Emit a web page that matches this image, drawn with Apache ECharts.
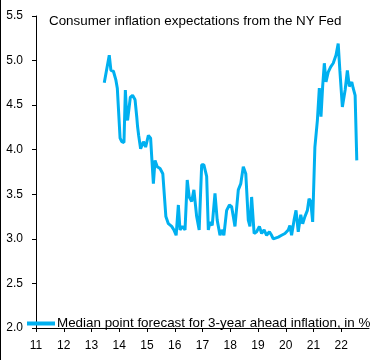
<!DOCTYPE html>
<html>
<head>
<meta charset="utf-8">
<script src="https://cdn.jsdelivr.net/npm/echarts@6/dist/echarts.min.js"></script>
<style>html,body{margin:0;padding:0;background:#fff}#c{width:384px;height:360px}</style>
</head>
<body>
<div id="c"></div>
<script>
var titleText = 'Consumer inflation expectations from the NY Fed';
var seriesName = 'Median point forecast for 3-year ahead inflation, in %';
var yTicks = [2.0, 2.5, 3.0, 3.5, 4.0, 4.5, 5.0, 5.5];
var xYears = [2011, 2012, 2013, 2014, 2015, 2016, 2017, 2018, 2019, 2020, 2021, 2022, 2023];
var dates = [2013.46,2013.64,2013.70,2013.79,2013.88,2013.93,2013.99,2014.03,2014.09,2014.17,2014.22,2014.27,2014.30,2014.35,2014.40,2014.48,2014.57,2014.63,2014.66,2014.70,2014.77,2014.87,2014.95,2015.05,2015.13,2015.17,2015.23,2015.29,2015.37,2015.47,2015.57,2015.62,2015.68,2015.77,2015.89,2015.97,2016.05,2016.13,2016.19,2016.27,2016.37,2016.45,2016.52,2016.61,2016.69,2016.79,2016.88,2016.97,2017.05,2017.15,2017.21,2017.27,2017.35,2017.45,2017.53,2017.63,2017.69,2017.77,2017.87,2017.97,2018.05,2018.11,2018.17,2018.23,2018.29,2018.38,2018.47,2018.56,2018.65,2018.71,2018.77,2018.86,2018.95,2019.05,2019.13,2019.22,2019.31,2019.41,2019.49,2019.55,2019.62,2019.73,2019.85,2019.97,2020.09,2020.15,2020.21,2020.30,2020.37,2020.45,2020.54,2020.61,2020.69,2020.78,2020.84,2020.90,2020.97,2021.05,2021.14,2021.21,2021.27,2021.33,2021.39,2021.45,2021.53,2021.62,2021.71,2021.81,2021.89,2021.95,2022.04,2022.14,2022.22,2022.29,2022.38,2022.43,2022.50,2022.56];
var values = [4.75,5.06,4.89,4.88,4.78,4.69,4.67,4.13,4.09,4.08,4.67,4.37,4.33,4.35,4.59,4.61,4.56,4.37,4.26,4.16,4.01,4.09,4.03,4.16,4.13,3.92,3.62,3.88,3.81,3.79,3.73,3.71,3.25,3.17,3.14,3.10,3.04,3.38,3.10,3.14,3.10,3.66,3.47,3.42,3.55,3.25,3.10,3.83,3.83,3.70,3.10,3.19,3.15,3.51,3.21,3.04,3.10,3.04,3.32,3.38,3.36,3.25,3.14,3.14,3.55,3.62,3.81,3.73,3.21,3.14,3.47,3.06,3.08,3.14,3.06,3.10,3.04,3.08,3.04,3.00,2.99,3.02,3.04,3.06,3.10,3.15,3.04,3.21,3.32,3.08,3.27,3.17,3.25,3.32,3.45,3.42,3.19,4.03,4.33,4.69,4.37,4.71,4.97,4.76,4.87,4.93,4.97,5.06,5.19,4.89,4.48,4.67,4.89,4.71,4.76,4.69,4.61,3.88];

var pts = dates.map(function (d, i) { return [d, values[i]]; });
var FONT = 'Liberation Sans';
var chart = echarts.init(document.getElementById('c'), null, {renderer: 'canvas'});
chart.setOption({
  animation: false,
  backgroundColor: '#fff',
  title: {
    text: titleText, left: 44, top: 10,
    textStyle: {fontFamily: FONT, fontSize: 13.4, fontWeight: 'normal', color: '#000'}
  },
  legend: {
    left: 22, top: 312, itemWidth: 28, itemHeight: 4, itemGap: 2, icon: 'rect',
    data: [seriesName],
    textStyle: {fontFamily: FONT, fontSize: 13.4, color: '#000', padding: [0, 0, 0, -3]}
  },
  graphic: [{type: 'line', shape: {x1: 0.5, y1: 0, x2: 0.5, y2: 360}, style: {stroke: '#000', lineWidth: 1}}],
  grid: {left: 36, right: 15, top: 16, bottom: 32, containLabel: false},
  xAxis: {
    type: 'value', min: xYears[0], max: xYears[xYears.length - 1], interval: 1,
    axisLine: {show: true, onZero: false, lineStyle: {color: '#000', width: 1}},
    axisTick: {show: true, length: 4, lineStyle: {color: '#000'}},
    splitLine: {show: false},
    axisLabel: {
      margin: 12, showMaxLabel: false, fontFamily: FONT, fontSize: 12, color: '#000',
      formatter: function (v) { return v === xYears[xYears.length - 1] ? '' : String(v - 2000); }
    }
  },
  yAxis: {
    type: 'value', min: yTicks[0], max: yTicks[yTicks.length - 1], interval: 0.5,
    axisLine: {show: true, lineStyle: {color: '#000', width: 1}},
    axisTick: {show: true, length: 4, lineStyle: {color: '#000'}},
    splitLine: {show: false},
    axisLabel: {margin: 13, fontFamily: FONT, fontSize: 12, color: '#000', formatter: function (v) { return v.toFixed(1); }}
  },
  series: [{
    name: seriesName, type: 'line', data: pts, showSymbol: false, symbol: 'none',
    lineStyle: {color: '#00B0F0', width: 3}, itemStyle: {color: '#00B0F0'}
  }]
});
</script>
</body>
</html>
